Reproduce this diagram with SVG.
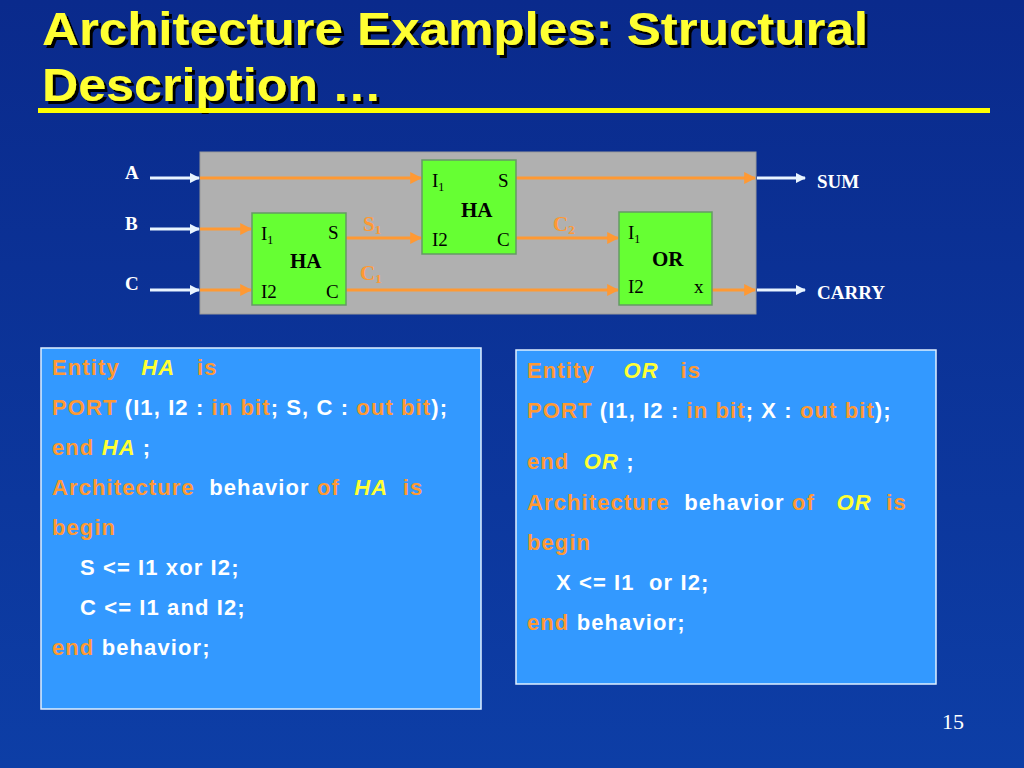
<svg xmlns="http://www.w3.org/2000/svg" width="1024" height="768" viewBox="0 0 1024 768">
<defs>
<linearGradient id="bg" x1="0" y1="0" x2="0" y2="1"><stop offset="0" stop-color="#0a2a8c"/><stop offset="1" stop-color="#0d3ea6"/></linearGradient>
<filter id="sh" x="-5%" y="-20%" width="110%" height="140%"><feDropShadow dx="3" dy="3" stdDeviation="0" flood-color="#000"/></filter>
<marker id="oa" viewBox="0 0 10 10" refX="9" refY="5" markerWidth="4" markerHeight="4" orient="auto"><path d="M0,0L10,5L0,10z" fill="#ff9933"/></marker>
<marker id="wa" viewBox="0 0 10 10" refX="9" refY="5" markerWidth="3.5" markerHeight="3.5" orient="auto"><path d="M0,0L10,5L0,10z" fill="#e8f4ff"/></marker>
</defs>
<style>
.t{font-family:"Liberation Sans",Arial,sans-serif;font-weight:bold;font-size:46px;fill:#ffff33;filter:url(#sh)}
.s{font-family:"Liberation Serif","Times New Roman",serif;font-size:19px;fill:#000}
.sb{font-family:"Liberation Serif","Times New Roman",serif;font-size:21px;font-weight:bold;fill:#000}
.w{font-family:"Liberation Serif","Times New Roman",serif;font-size:19px;fill:#fff;font-weight:bold}
.ol{font-family:"Liberation Serif","Times New Roman",serif;font-size:21px;font-weight:bold;fill:#ff9933}
.box{fill:#66ff33;stroke:#669966;stroke-width:1.5}
.ow{stroke:#ff9933;stroke-width:3;fill:none;marker-end:url(#oa)}
.wh{stroke:#e8f4ff;stroke-width:3;fill:none;marker-end:url(#wa)}
.code{font-family:"Liberation Sans",Arial,sans-serif;font-weight:bold;font-size:22px;letter-spacing:1.1px;fill:#fff;white-space:pre}
.k{fill:#ff9933}.y{fill:#ffff33;font-style:italic}
.panel{fill:#3399ff;stroke:#e0f0ff;stroke-width:1.5}
</style>
<rect width="1024" height="768" fill="url(#bg)"/>
<g id="title">
<text class="t" x="42" y="45" textLength="826" lengthAdjust="spacingAndGlyphs">Architecture Examples: Structural</text>
<text class="t" x="42" y="101" textLength="340" lengthAdjust="spacingAndGlyphs">Description …</text>
<rect x="38" y="108" width="952" height="5" fill="#ffff00"/>
</g>
<rect x="200" y="152" width="556" height="162" fill="#b0b0b0" stroke="#9a9a9a"/>
<g id="connectors">
<line class="wh" x1="150" y1="178" x2="199" y2="178"/>
<line class="wh" x1="150" y1="229" x2="199" y2="229"/>
<line class="wh" x1="150" y1="290" x2="199" y2="290"/>
<line class="wh" x1="757" y1="178" x2="805" y2="178"/>
<line class="wh" x1="757" y1="290" x2="805" y2="290"/>
<line class="ow" x1="200" y1="178" x2="421" y2="178"/>
<line class="ow" x1="516" y1="178" x2="755" y2="178"/>
<line class="ow" x1="200" y1="229" x2="251" y2="229"/>
<line class="ow" x1="200" y1="290" x2="251" y2="290"/>
<line class="ow" x1="346" y1="238" x2="421" y2="238"/>
<line class="ow" x1="516" y1="238" x2="618" y2="238"/>
<line class="ow" x1="346" y1="290" x2="618" y2="290"/>
<line class="ow" x1="712" y1="290" x2="755" y2="290"/>
<text class="ol" x="363" y="231">S<tspan font-size="13" dy="3">1</tspan></text>
<text class="ol" x="553" y="231">C<tspan font-size="13" dy="3">2</tspan></text>
<text class="ol" x="360" y="280">C<tspan font-size="13" dy="3">1</tspan></text>
</g>
<g id="inputs">
<text class="w" x="125" y="179">A</text>
<text class="w" x="125" y="230">B</text>
<text class="w" x="125" y="290">C</text>
<text class="w" x="817" y="188">SUM</text>
<text class="w" x="817" y="299">CARRY</text>
</g>
<g id="ha1">
<rect class="box" x="252" y="213" width="94" height="92"/>
<text class="s" x="261" y="240">I<tspan font-size="12" dy="4">1</tspan></text>
<text class="s" x="328" y="239">S</text>
<text class="sb" x="290" y="268">HA</text>
<text class="s" x="261" y="298">I2</text>
<text class="s" x="326" y="298">C</text>
</g>
<g id="ha2">
<rect class="box" x="422" y="160" width="94" height="94"/>
<text class="s" x="432" y="187">I<tspan font-size="12" dy="4">1</tspan></text>
<text class="s" x="498" y="187">S</text>
<text class="sb" x="461" y="217">HA</text>
<text class="s" x="432" y="246">I2</text>
<text class="s" x="497" y="246">C</text>
</g>
<g id="or">
<rect class="box" x="619" y="212" width="93" height="93"/>
<text class="s" x="628" y="239">I<tspan font-size="12" dy="4">1</tspan></text>
<text class="sb" x="652" y="266">OR</text>
<text class="s" x="628" y="293">I2</text>
<text class="s" x="694" y="293">x</text>
</g>
<g id="ha-code">
<rect class="panel" x="41" y="348" width="440" height="361"/>
<text class="code" x="52" y="375"><tspan class="k">Entity</tspan>   <tspan class="y">HA</tspan>   <tspan class="k">is</tspan></text>
<text class="code" x="52" y="415"><tspan class="k">PORT</tspan> (I1, I2 : <tspan class="k">in bit</tspan>; S, C : <tspan class="k">out bit</tspan>);</text>
<text class="code" x="52" y="455"><tspan class="k">end</tspan> <tspan class="y">HA</tspan> ;</text>
<text class="code" x="52" y="495"><tspan class="k">Architecture</tspan>  behavior <tspan class="k">of</tspan>  <tspan class="y">HA</tspan>  <tspan class="k">is</tspan></text>
<text class="code" x="52" y="535"><tspan class="k">begin</tspan></text>
<text class="code" x="80" y="575">S &lt;= I1 xor I2;</text>
<text class="code" x="80" y="615">C &lt;= I1 and I2;</text>
<text class="code" x="52" y="655"><tspan class="k">end</tspan> behavior;</text>
</g>
<g id="or-code">
<rect class="panel" x="516" y="350" width="420" height="334"/>
<text class="code" x="527" y="378"><tspan class="k">Entity</tspan>    <tspan class="y">OR</tspan>   <tspan class="k">is</tspan></text>
<text class="code" x="527" y="418"><tspan class="k">PORT</tspan> (I1, I2 : <tspan class="k">in bit</tspan>; X : <tspan class="k">out bit</tspan>);</text>
<text class="code" x="527" y="469"><tspan class="k">end</tspan>  <tspan class="y">OR</tspan> ;</text>
<text class="code" x="527" y="510"><tspan class="k">Architecture</tspan>  behavior <tspan class="k">of</tspan>   <tspan class="y">OR</tspan>  <tspan class="k">is</tspan></text>
<text class="code" x="527" y="550"><tspan class="k">begin</tspan></text>
<text class="code" x="556" y="590">X &lt;= I1  or I2;</text>
<text class="code" x="527" y="630"><tspan class="k">end</tspan> behavior;</text>
</g>
<text x="942" y="729" font-family="Liberation Serif,serif" font-size="22" fill="#fff">15</text>
</svg>
